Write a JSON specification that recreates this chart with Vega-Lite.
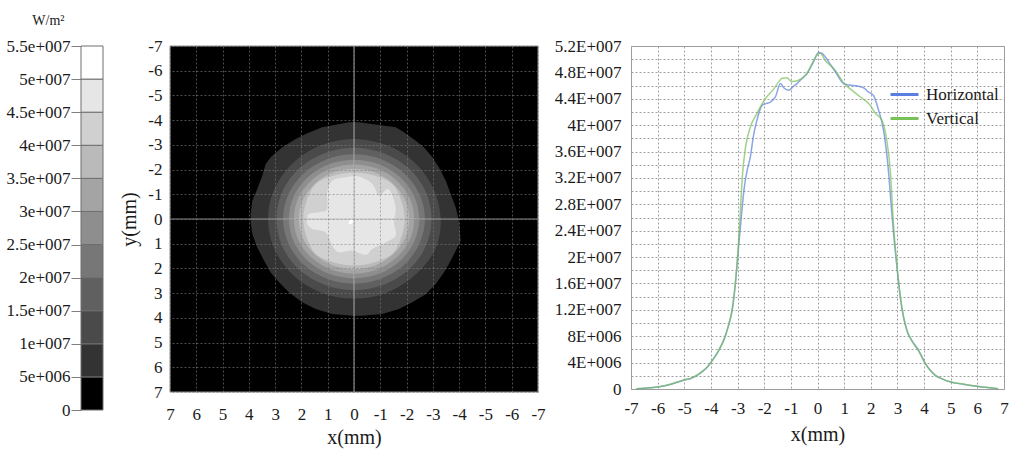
{
  "$schema": "https://vega.github.io/schema/vega-lite/v6.json",
  "padding": {"left": 6, "top": 13, "right": 5, "bottom": 5},
  "background": "white",
  "bounds": "flush",
  "spacing": 67,
  "config": {
    "font": "Liberation Serif",
    "view": {"stroke": null},
    "axis": {"labelFont": "Liberation Serif", "titleFont": "Liberation Serif", "labelColor": "#1a1a1a", "titleColor": "#1a1a1a", "titleFontWeight": "normal", "labelFontSize": 17, "titleFontSize": 20, "labelFlush": false, "labelOverlap": false, "labelBound": false},
    "legend": {"labelFont": "Liberation Serif"}
  },
  "datasets": {
    "bands": [
      {"lo": 0, "hi": 5e6}, {"lo": 5e6, "hi": 1e7}, {"lo": 1e7, "hi": 1.5e7}, {"lo": 1.5e7, "hi": 2e7},
      {"lo": 2e7, "hi": 2.5e7}, {"lo": 2.5e7, "hi": 3e7}, {"lo": 3e7, "hi": 3.5e7}, {"lo": 3.5e7, "hi": 4e7},
      {"lo": 4e7, "hi": 4.5e7}, {"lo": 4.5e7, "hi": 5e7}, {"lo": 5e7, "hi": 5.5e7}
    ],
    "one": [{}],
    "outer": [
      {"v":5e6,"i":0,"x":0.19,"y":-3.91},{"v":5e6,"i":1,"x":-0.19,"y":-3.91},{"v":5e6,"i":2,"x":-1.59,"y":-3.71},{"v":5e6,"i":3,"x":-1.90,"y":-3.51},
      {"v":5e6,"i":4,"x":-2.35,"y":-3.17},{"v":5e6,"i":5,"x":-2.66,"y":-2.90},{"v":5e6,"i":6,"x":-2.98,"y":-2.50},{"v":5e6,"i":7,"x":-3.23,"y":-2.09},
      {"v":5e6,"i":8,"x":-3.49,"y":-1.55},{"v":5e6,"i":9,"x":-3.68,"y":-1.01},{"v":5e6,"i":10,"x":-3.87,"y":-0.47},{"v":5e6,"i":11,"x":-3.99,"y":0.07},
      {"v":5e6,"i":12,"x":-4.06,"y":0.88},{"v":5e6,"i":13,"x":-3.87,"y":1.28},{"v":5e6,"i":14,"x":-3.61,"y":1.82},{"v":5e6,"i":15,"x":-3.42,"y":2.16},
      {"v":5e6,"i":16,"x":-3.11,"y":2.63},{"v":5e6,"i":17,"x":-2.73,"y":3.04},{"v":5e6,"i":18,"x":-2.22,"y":3.37},{"v":5e6,"i":19,"x":-1.71,"y":3.64},
      {"v":5e6,"i":20,"x":-1.08,"y":3.84},{"v":5e6,"i":21,"x":-0.32,"y":3.91},{"v":5e6,"i":22,"x":0.06,"y":3.91},{"v":5e6,"i":23,"x":0.83,"y":3.84},
      {"v":5e6,"i":24,"x":1.46,"y":3.64},{"v":5e6,"i":25,"x":1.97,"y":3.37},{"v":5e6,"i":26,"x":2.47,"y":2.97},{"v":5e6,"i":27,"x":2.85,"y":2.56},
      {"v":5e6,"i":28,"x":3.17,"y":2.16},{"v":5e6,"i":29,"x":3.42,"y":1.69},{"v":5e6,"i":30,"x":3.68,"y":1.15},{"v":5e6,"i":31,"x":3.87,"y":0.61},
      {"v":5e6,"i":32,"x":3.93,"y":0.13},{"v":5e6,"i":33,"x":3.93,"y":-0.20},{"v":5e6,"i":34,"x":3.87,"y":-0.74},{"v":5e6,"i":35,"x":3.68,"y":-1.21},
      {"v":5e6,"i":36,"x":3.49,"y":-1.75},{"v":5e6,"i":37,"x":3.36,"y":-2.23},{"v":5e6,"i":38,"x":3.17,"y":-2.50},{"v":5e6,"i":39,"x":2.73,"y":-2.90},
      {"v":5e6,"i":40,"x":2.22,"y":-3.24},{"v":5e6,"i":41,"x":1.84,"y":-3.44},{"v":5e6,"i":42,"x":1.21,"y":-3.71}
    ],
    "inner": [
      {"v":1e7,"i":0,"x":0.02,"y":-3.24},{"v":1e7,"i":1,"x":-1.25,"y":-2.98},{"v":1e7,"i":2,"x":-2.31,"y":-2.28},{"v":1e7,"i":3,"x":-3.02,"y":-1.23},
      {"v":1e7,"i":4,"x":-3.30,"y":0.05},{"v":1e7,"i":5,"x":-3.08,"y":1.25},{"v":1e7,"i":6,"x":-2.31,"y":2.28},{"v":1e7,"i":7,"x":-1.25,"y":2.98},
      {"v":1e7,"i":8,"x":0,"y":3.22},{"v":1e7,"i":9,"x":1.25,"y":2.98},{"v":1e7,"i":10,"x":2.31,"y":2.28},{"v":1e7,"i":11,"x":3.02,"y":1.23},
      {"v":1e7,"i":12,"x":3.27,"y":0},{"v":1e7,"i":13,"x":3.02,"y":-1.23},{"v":1e7,"i":14,"x":2.31,"y":-2.28},{"v":1e7,"i":15,"x":1.25,"y":-2.98},

      {"v":1.5e7,"i":0,"x":0,"y":-2.88},{"v":1.5e7,"i":1,"x":-1.13,"y":-2.66},{"v":1.5e7,"i":2,"x":-2.09,"y":-2.04},{"v":1.5e7,"i":3,"x":-2.73,"y":-1.10},
      {"v":1.5e7,"i":4,"x":-2.95,"y":0},{"v":1.5e7,"i":5,"x":-2.73,"y":1.10},{"v":1.5e7,"i":6,"x":-2.09,"y":2.04},{"v":1.5e7,"i":7,"x":-1.13,"y":2.66},
      {"v":1.5e7,"i":8,"x":0,"y":2.88},{"v":1.5e7,"i":9,"x":1.13,"y":2.66},{"v":1.5e7,"i":10,"x":2.09,"y":2.04},{"v":1.5e7,"i":11,"x":2.73,"y":1.10},
      {"v":1.5e7,"i":12,"x":2.95,"y":0},{"v":1.5e7,"i":13,"x":2.73,"y":-1.10},{"v":1.5e7,"i":14,"x":2.09,"y":-2.04},{"v":1.5e7,"i":15,"x":1.13,"y":-2.66},

      {"v":2e7,"i":0,"x":0,"y":-2.62},{"v":2e7,"i":1,"x":-1.03,"y":-2.42},{"v":2e7,"i":2,"x":-1.91,"y":-1.85},{"v":2e7,"i":3,"x":-2.49,"y":-1.00},
      {"v":2e7,"i":4,"x":-2.70,"y":0},{"v":2e7,"i":5,"x":-2.49,"y":1.00},{"v":2e7,"i":6,"x":-1.91,"y":1.85},{"v":2e7,"i":7,"x":-1.03,"y":2.42},
      {"v":2e7,"i":8,"x":0,"y":2.62},{"v":2e7,"i":9,"x":1.03,"y":2.42},{"v":2e7,"i":10,"x":1.91,"y":1.85},{"v":2e7,"i":11,"x":2.49,"y":1.00},
      {"v":2e7,"i":12,"x":2.70,"y":0},{"v":2e7,"i":13,"x":2.49,"y":-1.00},{"v":2e7,"i":14,"x":1.91,"y":-1.85},{"v":2e7,"i":15,"x":1.03,"y":-2.42},

      {"v":2.5e7,"i":0,"x":0,"y":-2.40},{"v":2.5e7,"i":1,"x":-0.95,"y":-2.22},{"v":2.5e7,"i":2,"x":-1.75,"y":-1.70},{"v":2.5e7,"i":3,"x":-2.29,"y":-0.92},
      {"v":2.5e7,"i":4,"x":-2.48,"y":0},{"v":2.5e7,"i":5,"x":-2.29,"y":0.92},{"v":2.5e7,"i":6,"x":-1.75,"y":1.70},{"v":2.5e7,"i":7,"x":-0.95,"y":2.22},
      {"v":2.5e7,"i":8,"x":0,"y":2.40},{"v":2.5e7,"i":9,"x":0.95,"y":2.22},{"v":2.5e7,"i":10,"x":1.75,"y":1.70},{"v":2.5e7,"i":11,"x":2.29,"y":0.92},
      {"v":2.5e7,"i":12,"x":2.48,"y":0},{"v":2.5e7,"i":13,"x":2.29,"y":-0.92},{"v":2.5e7,"i":14,"x":1.75,"y":-1.70},{"v":2.5e7,"i":15,"x":0.95,"y":-2.22},

      {"v":3e7,"i":0,"x":0,"y":-2.21},{"v":3e7,"i":1,"x":-0.88,"y":-2.04},{"v":3e7,"i":2,"x":-1.62,"y":-1.56},{"v":3e7,"i":3,"x":-2.12,"y":-0.85},
      {"v":3e7,"i":4,"x":-2.29,"y":0},{"v":3e7,"i":5,"x":-2.12,"y":0.85},{"v":3e7,"i":6,"x":-1.62,"y":1.56},{"v":3e7,"i":7,"x":-0.88,"y":2.04},
      {"v":3e7,"i":8,"x":0,"y":2.21},{"v":3e7,"i":9,"x":0.88,"y":2.04},{"v":3e7,"i":10,"x":1.62,"y":1.56},{"v":3e7,"i":11,"x":2.12,"y":0.85},
      {"v":3e7,"i":12,"x":2.29,"y":0},{"v":3e7,"i":13,"x":2.12,"y":-0.85},{"v":3e7,"i":14,"x":1.62,"y":-1.56},{"v":3e7,"i":15,"x":0.88,"y":-2.04},

      {"v":3.5e7,"i":0,"x":0,"y":-2.03},{"v":3.5e7,"i":1,"x":-0.80,"y":-1.88},{"v":3.5e7,"i":2,"x":-1.48,"y":-1.44},{"v":3.5e7,"i":3,"x":-1.94,"y":-0.78},
      {"v":3.5e7,"i":4,"x":-2.10,"y":0},{"v":3.5e7,"i":5,"x":-1.94,"y":0.78},{"v":3.5e7,"i":6,"x":-1.48,"y":1.44},{"v":3.5e7,"i":7,"x":-0.80,"y":1.88},
      {"v":3.5e7,"i":8,"x":0,"y":2.03},{"v":3.5e7,"i":9,"x":0.80,"y":1.88},{"v":3.5e7,"i":10,"x":1.48,"y":1.44},{"v":3.5e7,"i":11,"x":1.94,"y":0.78},
      {"v":3.5e7,"i":12,"x":2.10,"y":0},{"v":3.5e7,"i":13,"x":1.94,"y":-0.78},{"v":3.5e7,"i":14,"x":1.48,"y":-1.44},{"v":3.5e7,"i":15,"x":0.80,"y":-1.88},

      {"v":4e7,"i":0,"x":0,"y":-1.88},{"v":4e7,"i":1,"x":-0.76,"y":-1.76},{"v":4e7,"i":2,"x":-1.45,"y":-1.42},{"v":4e7,"i":3,"x":-1.80,"y":-0.74},
      {"v":4e7,"i":4,"x":-1.93,"y":0},{"v":4e7,"i":5,"x":-1.80,"y":0.74},{"v":4e7,"i":6,"x":-1.45,"y":1.42},{"v":4e7,"i":7,"x":-0.76,"y":1.76},
      {"v":4e7,"i":8,"x":0,"y":1.88},{"v":4e7,"i":9,"x":0.76,"y":1.76},{"v":4e7,"i":10,"x":1.45,"y":1.42},{"v":4e7,"i":11,"x":1.80,"y":0.74},
      {"v":4e7,"i":12,"x":1.93,"y":0},{"v":4e7,"i":13,"x":1.80,"y":-0.74},{"v":4e7,"i":14,"x":1.45,"y":-1.42},{"v":4e7,"i":15,"x":0.76,"y":-1.76},

      {"v":4.5e7,"i":0,"x":1.78,"y":0},{"v":4.5e7,"i":1,"x":1.71,"y":-0.2},{"v":4.5e7,"i":2,"x":1.33,"y":-0.27},{"v":4.5e7,"i":3,"x":1.02,"y":-0.40},
      {"v":4.5e7,"i":4,"x":1.02,"y":-1.08},{"v":4.5e7,"i":5,"x":0.83,"y":-1.55},{"v":4.5e7,"i":6,"x":0.32,"y":-1.69},{"v":4.5e7,"i":7,"x":-0.19,"y":-1.72},
      {"v":4.5e7,"i":8,"x":-0.70,"y":-1.42},{"v":4.5e7,"i":9,"x":-0.95,"y":-0.94},{"v":4.5e7,"i":10,"x":-1.27,"y":-1.21},{"v":4.5e7,"i":11,"x":-1.46,"y":-0.94},
      {"v":4.5e7,"i":12,"x":-1.59,"y":-0.40},{"v":4.5e7,"i":13,"x":-1.52,"y":0.13},{"v":4.5e7,"i":14,"x":-1.59,"y":0.67},{"v":4.5e7,"i":15,"x":-1.21,"y":0.94},
      {"v":4.5e7,"i":16,"x":-0.70,"y":1.21},{"v":4.5e7,"i":17,"x":-0.44,"y":1.45},{"v":4.5e7,"i":18,"x":0.06,"y":1.28},{"v":4.5e7,"i":19,"x":0.57,"y":1.35},
      {"v":4.5e7,"i":20,"x":0.83,"y":1.08},{"v":4.5e7,"i":21,"x":1.08,"y":0.54},{"v":4.5e7,"i":22,"x":1.59,"y":0.40},{"v":4.5e7,"i":23,"x":1.78,"y":0.20},

      {"v":5e7,"i":0,"x":0.2,"y":0.1},{"v":5e7,"i":1,"x":0.12,"y":0.02},{"v":5e7,"i":2,"x":0.03,"y":0.08},{"v":5e7,"i":3,"x":0.08,"y":0.18},{"v":5e7,"i":4,"x":0.18,"y":0.2}
    ],
    "profile": [
      {"s":"Horizontal","x":-6.8,"v":0.05e6},{"s":"Horizontal","x":-6.5,"v":0.12e6},{"s":"Horizontal","x":-6.0,"v":0.3e6},{"s":"Horizontal","x":-5.6,"v":0.6e6},
      {"s":"Horizontal","x":-5.2,"v":1.1e6},{"s":"Horizontal","x":-4.95,"v":1.4e6},{"s":"Horizontal","x":-4.75,"v":1.6e6},{"s":"Horizontal","x":-4.55,"v":2.0e6},
      {"s":"Horizontal","x":-4.3,"v":2.7e6},{"s":"Horizontal","x":-4.1,"v":3.5e6},{"s":"Horizontal","x":-3.9,"v":4.6e6},{"s":"Horizontal","x":-3.7,"v":5.9e6},
      {"s":"Horizontal","x":-3.5,"v":7.6e6},{"s":"Horizontal","x":-3.35,"v":9.5e6},{"s":"Horizontal","x":-3.2,"v":12.0e6},{"s":"Horizontal","x":-3.08,"v":16.0e6},
      {"s":"Horizontal","x":-2.96,"v":21.6e6},{"s":"Horizontal","x":-2.85,"v":26.5e6},{"s":"Horizontal","x":-2.75,"v":30.5e6},{"s":"Horizontal","x":-2.62,"v":33.5e6},
      {"s":"Horizontal","x":-2.52,"v":35.2e6},{"s":"Horizontal","x":-2.4,"v":38.5e6},{"s":"Horizontal","x":-2.27,"v":40.8e6},{"s":"Horizontal","x":-2.08,"v":43.0e6},
      {"s":"Horizontal","x":-1.9,"v":43.3e6},{"s":"Horizontal","x":-1.77,"v":43.5e6},{"s":"Horizontal","x":-1.58,"v":44.3e6},{"s":"Horizontal","x":-1.39,"v":46.3e6},
      {"s":"Horizontal","x":-1.25,"v":45.6e6},{"s":"Horizontal","x":-1.08,"v":45.3e6},{"s":"Horizontal","x":-0.9,"v":45.9e6},{"s":"Horizontal","x":-0.77,"v":46.3e6},
      {"s":"Horizontal","x":-0.55,"v":47.2e6},{"s":"Horizontal","x":-0.4,"v":47.8e6},{"s":"Horizontal","x":-0.15,"v":49.6e6},{"s":"Horizontal","x":0.04,"v":51.0e6},
      {"s":"Horizontal","x":0.16,"v":50.9e6},{"s":"Horizontal","x":0.3,"v":50.3e6},{"s":"Horizontal","x":0.42,"v":49.6e6},{"s":"Horizontal","x":0.67,"v":48.1e6},
      {"s":"Horizontal","x":0.98,"v":46.3e6},{"s":"Horizontal","x":1.17,"v":46.1e6},{"s":"Horizontal","x":1.54,"v":45.9e6},{"s":"Horizontal","x":1.75,"v":45.6e6},
      {"s":"Horizontal","x":1.92,"v":45.0e6},{"s":"Horizontal","x":2.10,"v":44.5e6},{"s":"Horizontal","x":2.29,"v":42.3e6},{"s":"Horizontal","x":2.48,"v":39.2e6},
      {"s":"Horizontal","x":2.66,"v":33.2e6},{"s":"Horizontal","x":2.79,"v":26.6e6},{"s":"Horizontal","x":2.88,"v":22.5e6},{"s":"Horizontal","x":2.97,"v":19.0e6},
      {"s":"Horizontal","x":3.06,"v":15.5e6},{"s":"Horizontal","x":3.16,"v":12.5e6},{"s":"Horizontal","x":3.35,"v":8.9e6},{"s":"Horizontal","x":3.55,"v":7.3e6},
      {"s":"Horizontal","x":3.79,"v":5.9e6},{"s":"Horizontal","x":4.04,"v":3.9e6},{"s":"Horizontal","x":4.2,"v":3.0e6},{"s":"Horizontal","x":4.41,"v":2.1e6},
      {"s":"Horizontal","x":4.7,"v":1.5e6},{"s":"Horizontal","x":4.97,"v":1.1e6},{"s":"Horizontal","x":5.4,"v":0.75e6},{"s":"Horizontal","x":5.91,"v":0.45e6},
      {"s":"Horizontal","x":6.3,"v":0.25e6},{"s":"Horizontal","x":6.78,"v":0.02e6},

      {"s":"Vertical","x":-6.8,"v":0.05e6},{"s":"Vertical","x":-6.5,"v":0.1e6},{"s":"Vertical","x":-6.0,"v":0.32e6},{"s":"Vertical","x":-5.6,"v":0.65e6},
      {"s":"Vertical","x":-5.2,"v":1.15e6},{"s":"Vertical","x":-4.95,"v":1.45e6},{"s":"Vertical","x":-4.75,"v":1.65e6},{"s":"Vertical","x":-4.55,"v":2.05e6},
      {"s":"Vertical","x":-4.3,"v":2.75e6},{"s":"Vertical","x":-4.1,"v":3.5e6},{"s":"Vertical","x":-3.9,"v":4.6e6},{"s":"Vertical","x":-3.7,"v":5.9e6},
      {"s":"Vertical","x":-3.5,"v":7.6e6},{"s":"Vertical","x":-3.35,"v":9.5e6},{"s":"Vertical","x":-3.2,"v":12.2e6},{"s":"Vertical","x":-3.08,"v":16.3e6},
      {"s":"Vertical","x":-2.96,"v":22.5e6},{"s":"Vertical","x":-2.88,"v":28.0e6},{"s":"Vertical","x":-2.83,"v":31.7e6},{"s":"Vertical","x":-2.70,"v":36.7e6},
      {"s":"Vertical","x":-2.52,"v":39.7e6},{"s":"Vertical","x":-2.27,"v":41.8e6},{"s":"Vertical","x":-1.96,"v":44.0e6},{"s":"Vertical","x":-1.64,"v":45.5e6},
      {"s":"Vertical","x":-1.45,"v":46.6e6},{"s":"Vertical","x":-1.33,"v":47.1e6},{"s":"Vertical","x":-1.15,"v":47.2e6},{"s":"Vertical","x":-0.96,"v":46.6e6},
      {"s":"Vertical","x":-0.71,"v":46.8e6},{"s":"Vertical","x":-0.4,"v":47.8e6},{"s":"Vertical","x":-0.21,"v":49.3e6},{"s":"Vertical","x":-0.02,"v":50.6e6},
      {"s":"Vertical","x":0.10,"v":50.9e6},{"s":"Vertical","x":0.29,"v":49.8e6},{"s":"Vertical","x":0.67,"v":48.3e6},{"s":"Vertical","x":0.98,"v":46.4e6},
      {"s":"Vertical","x":1.29,"v":45.3e6},{"s":"Vertical","x":1.60,"v":44.3e6},{"s":"Vertical","x":1.98,"v":43.0e6},{"s":"Vertical","x":2.17,"v":41.8e6},
      {"s":"Vertical","x":2.41,"v":40.8e6},{"s":"Vertical","x":2.60,"v":37.7e6},{"s":"Vertical","x":2.73,"v":33.2e6},{"s":"Vertical","x":2.85,"v":25.1e6},
      {"s":"Vertical","x":2.93,"v":21.0e6},{"s":"Vertical","x":3.0,"v":18.0e6},{"s":"Vertical","x":3.08,"v":15.0e6},{"s":"Vertical","x":3.16,"v":12.5e6},
      {"s":"Vertical","x":3.35,"v":9.0e6},{"s":"Vertical","x":3.55,"v":7.2e6},{"s":"Vertical","x":3.79,"v":5.8e6},{"s":"Vertical","x":4.04,"v":3.9e6},
      {"s":"Vertical","x":4.2,"v":3.0e6},{"s":"Vertical","x":4.41,"v":2.1e6},{"s":"Vertical","x":4.7,"v":1.5e6},{"s":"Vertical","x":4.97,"v":1.1e6},
      {"s":"Vertical","x":5.4,"v":0.8e6},{"s":"Vertical","x":5.91,"v":0.45e6},{"s":"Vertical","x":6.3,"v":0.25e6},{"s":"Vertical","x":6.78,"v":0.02e6}
    ]
  },
  "hconcat": [
    {
      "width": 22,
      "height": 364,
      "data": {"name": "bands"},
      "mark": {"type": "rect", "stroke": "#6e6e6e", "strokeWidth": 1},
      "encoding": {
        "y": {
          "field": "lo", "type": "quantitative",
          "scale": {"domain": [0, 5.5e7], "nice": false, "zero": false},
          "axis": {
            "values": [0, 5e6, 1e7, 1.5e7, 2e7, 2.5e7, 3e7, 3.5e7, 4e7, 4.5e7, 5e7, 5.5e7],
            "labelExpr": "datum.value == 0 ? '0' : (datum.value < 1e7 ? format(datum.value / 1e6, '~g') + 'e+006' : format(datum.value / 1e7, '~g') + 'e+007')",
            "grid": false, "domain": false, "ticks": true, "tickSize": 10, "tickColor": "#808080",
            "labelPadding": 1, "labelFontSize": 17, "labelFont": "Liberation Serif", "labelOverlap": false,
            "title": "W/m²", "titleFont": "Liberation Serif", "titleAngle": 0, "titleX": -17, "titleY": -22, "titleAlign": "right", "titleBaseline": "alphabetic", "titleFontSize": 14
          }
        },
        "y2": {"field": "hi"},
        "color": {
          "field": "lo", "type": "quantitative",
          "scale": {"type": "threshold", "domain": [5e6, 1e7, 1.5e7, 2e7, 2.5e7, 3e7, 3.5e7, 4e7, 4.5e7, 5e7],
                    "range": ["#000000", "#333333", "#4a4a4a", "#606060", "#777777", "#8e8e8e", "#a4a4a4", "#bababa", "#d0d0d0", "#e6e6e6", "#ffffff"]},
          "legend": null
        }
      }
    },
    {
      "width": 394,
      "height": 346,
      "layer": [
        {
          "data": {"name": "one"},
          "mark": {"type": "rect", "fill": "#000000"},
          "encoding": {
            "x": {
              "datum": 7, "type": "quantitative", "title": "x(mm)",
              "scale": {"domain": [-7, 7], "reverse": true, "range": [0, 368], "nice": false, "zero": false},
              "axis": {"values": [-7, -6, -5, -4, -3, -2, -1, 0, 1, 2, 3, 4, 5, 6, 7], "labelExpr": "datum.value + ''", "labelFont": "Liberation Serif", "labelOverlap": false, "labelFontSize": 17, "grid": true, "gridColor": "#808080", "gridDash": [2, 2], "gridOpacity": 0.6, "ticks": false, "domain": false, "labelPadding": 14, "title": "x(mm)", "titlePadding": 5, "titleX": 184, "zindex": 1}
            },
            "x2": {"datum": -7},
            "y": {
              "datum": -7, "type": "quantitative", "title": "y(mm)",
              "scale": {"domain": [-7, 7], "reverse": true, "nice": false, "zero": false},
              "axis": {"values": [-7, -6, -5, -4, -3, -2, -1, 0, 1, 2, 3, 4, 5, 6, 7], "labelExpr": "datum.value + ''", "labelFont": "Liberation Serif", "labelOverlap": false, "labelFontSize": 17, "grid": true, "gridColor": "#808080", "gridDash": [2, 2], "gridOpacity": 0.6, "ticks": false, "domain": false, "labelPadding": 8, "title": "y(mm)", "titlePadding": 8, "zindex": 1}
            },
            "y2": {"datum": 7}
          }
        },
        {
          "data": {"name": "outer"},
          "mark": {"type": "line", "filled": true, "interpolate": "linear-closed", "strokeWidth": 0},
          "encoding": {
            "x": {"field": "x", "type": "quantitative", "title": "x(mm)",
              "axis": {"values": [-7, -6, -5, -4, -3, -2, -1, 0, 1, 2, 3, 4, 5, 6, 7], "labelExpr": "datum.value + ''", "labelFont": "Liberation Serif", "labelOverlap": false, "labelFontSize": 17, "grid": true, "gridColor": "#808080", "gridDash": [2, 2], "gridOpacity": 0.6, "ticks": false, "domain": false, "labelPadding": 14, "title": "x(mm)", "titlePadding": 5, "titleX": 184, "zindex": 1}},
            "y": {"field": "y", "type": "quantitative", "title": "y(mm)",
              "axis": {"values": [-7, -6, -5, -4, -3, -2, -1, 0, 1, 2, 3, 4, 5, 6, 7], "labelExpr": "datum.value + ''", "labelFont": "Liberation Serif", "labelOverlap": false, "labelFontSize": 17, "grid": true, "gridColor": "#808080", "gridDash": [2, 2], "gridOpacity": 0.6, "ticks": false, "domain": false, "labelPadding": 8, "title": "y(mm)", "titlePadding": 8, "zindex": 1}},
            "order": {"field": "i", "type": "quantitative"},
            "color": {
              "field": "v", "type": "quantitative",
              "scale": {"type": "threshold", "domain": [5e6, 1e7, 1.5e7, 2e7, 2.5e7, 3e7, 3.5e7, 4e7, 4.5e7, 5e7],
                        "range": ["#000000", "#333333", "#4a4a4a", "#606060", "#777777", "#8e8e8e", "#a4a4a4", "#bababa", "#d0d0d0", "#e6e6e6", "#ffffff"]},
              "legend": null
            }
          }
        },
        {
          "data": {"name": "inner"},
          "mark": {"type": "line", "filled": true, "interpolate": "cardinal-closed", "strokeWidth": 0},
          "encoding": {
            "x": {"field": "x", "type": "quantitative", "title": "x(mm)",
              "axis": {"values": [-7, -6, -5, -4, -3, -2, -1, 0, 1, 2, 3, 4, 5, 6, 7], "labelExpr": "datum.value + ''", "labelFont": "Liberation Serif", "labelOverlap": false, "labelFontSize": 17, "grid": true, "gridColor": "#808080", "gridDash": [2, 2], "gridOpacity": 0.6, "ticks": false, "domain": false, "labelPadding": 14, "title": "x(mm)", "titlePadding": 5, "titleX": 184, "zindex": 1}},
            "y": {"field": "y", "type": "quantitative", "title": "y(mm)",
              "axis": {"values": [-7, -6, -5, -4, -3, -2, -1, 0, 1, 2, 3, 4, 5, 6, 7], "labelExpr": "datum.value + ''", "labelFont": "Liberation Serif", "labelOverlap": false, "labelFontSize": 17, "grid": true, "gridColor": "#808080", "gridDash": [2, 2], "gridOpacity": 0.6, "ticks": false, "domain": false, "labelPadding": 8, "title": "y(mm)", "titlePadding": 8, "zindex": 1}},
            "order": {"field": "i", "type": "quantitative"},
            "color": {
              "field": "v", "type": "quantitative",
              "scale": {"type": "threshold", "domain": [5e6, 1e7, 1.5e7, 2e7, 2.5e7, 3e7, 3.5e7, 4e7, 4.5e7, 5e7],
                        "range": ["#000000", "#333333", "#4a4a4a", "#606060", "#777777", "#8e8e8e", "#a4a4a4", "#bababa", "#d0d0d0", "#e6e6e6", "#ffffff"]},
              "legend": null
            }
          }
        },
        {
          "data": {"name": "one"},
          "mark": {"type": "rule", "color": "#b4b4b4", "strokeWidth": 1.2, "opacity": 0.75},
          "encoding": {
            "x": {"datum": 0, "type": "quantitative", "title": "x(mm)",
              "axis": {"values": [-7, -6, -5, -4, -3, -2, -1, 0, 1, 2, 3, 4, 5, 6, 7], "labelExpr": "datum.value + ''", "labelFont": "Liberation Serif", "labelOverlap": false, "labelFontSize": 17, "grid": true, "gridColor": "#808080", "gridDash": [2, 2], "gridOpacity": 0.6, "ticks": false, "domain": false, "labelPadding": 14, "title": "x(mm)", "titlePadding": 5, "titleX": 184, "zindex": 1}}
          }
        },
        {
          "data": {"name": "one"},
          "mark": {"type": "rule", "color": "#b4b4b4", "strokeWidth": 1.2, "opacity": 0.75},
          "encoding": {
            "y": {"datum": 0, "type": "quantitative", "title": "y(mm)",
              "axis": {"values": [-7, -6, -5, -4, -3, -2, -1, 0, 1, 2, 3, 4, 5, 6, 7], "labelExpr": "datum.value + ''", "labelFont": "Liberation Serif", "labelOverlap": false, "labelFontSize": 17, "grid": true, "gridColor": "#808080", "gridDash": [2, 2], "gridOpacity": 0.6, "ticks": false, "domain": false, "labelPadding": 8, "title": "y(mm)", "titlePadding": 8, "zindex": 1}},
            "x": {"datum": 7, "type": "quantitative", "title": "x(mm)",
              "axis": {"values": [-7, -6, -5, -4, -3, -2, -1, 0, 1, 2, 3, 4, 5, 6, 7], "labelExpr": "datum.value + ''", "labelFont": "Liberation Serif", "labelOverlap": false, "labelFontSize": 17, "grid": true, "gridColor": "#808080", "gridDash": [2, 2], "gridOpacity": 0.6, "ticks": false, "domain": false, "labelPadding": 14, "title": "x(mm)", "titlePadding": 5, "titleX": 184, "zindex": 1}},
            "x2": {"datum": -7}
          }
        },
        {
          "data": {"name": "one"},
          "mark": {"type": "rect", "fill": null, "stroke": "#8c8c8c", "strokeWidth": 1},
          "encoding": {
            "x": {"datum": 7, "type": "quantitative", "title": "x(mm)",
              "axis": {"values": [-7, -6, -5, -4, -3, -2, -1, 0, 1, 2, 3, 4, 5, 6, 7], "labelExpr": "datum.value + ''", "labelFont": "Liberation Serif", "labelOverlap": false, "labelFontSize": 17, "grid": true, "gridColor": "#808080", "gridDash": [2, 2], "gridOpacity": 0.6, "ticks": false, "domain": false, "labelPadding": 14, "title": "x(mm)", "titlePadding": 5, "titleX": 184, "zindex": 1}},
            "x2": {"datum": -7},
            "y": {"datum": -7, "type": "quantitative", "title": "y(mm)",
              "axis": {"values": [-7, -6, -5, -4, -3, -2, -1, 0, 1, 2, 3, 4, 5, 6, 7], "labelExpr": "datum.value + ''", "labelFont": "Liberation Serif", "labelOverlap": false, "labelFontSize": 17, "grid": true, "gridColor": "#808080", "gridDash": [2, 2], "gridOpacity": 0.6, "ticks": false, "domain": false, "labelPadding": 8, "title": "y(mm)", "titlePadding": 8, "zindex": 1}},
            "y2": {"datum": 7}
          }
        }
      ]
    },
    {
      "width": 373,
      "height": 343,
      "view": {"stroke": "#9a9a9a"},
      "data": {"name": "profile"},
      "mark": {"type": "line", "strokeWidth": 1.5, "opacity": 0.7, "interpolate": "monotone"},
      "encoding": {
        "x": {
          "field": "x", "type": "quantitative",
          "scale": {"domain": [-7, 7], "nice": false, "zero": false},
          "axis": {
            "values": [-7, -6, -5, -4, -3, -2, -1, 0, 1, 2, 3, 4, 5, 6, 7],
            "labelExpr": "datum.value + ''", "labelFont": "Liberation Serif", "labelOverlap": false, "labelFontSize": 17,
            "grid": true, "gridColor": "#a0a0a0", "gridDash": [2, 2],
            "ticks": false, "domain": false, "labelPadding": 11, "title": "x(mm)", "titlePadding": 8
          }
        },
        "y": {
          "field": "v", "type": "quantitative",
          "scale": {"domain": [0, 5.2e7], "nice": false, "zero": false},
          "axis": {
            "values": [0, 2e6, 4e6, 6e6, 8e6, 1e7, 1.2e7, 1.4e7, 1.6e7, 1.8e7, 2e7, 2.2e7, 2.4e7, 2.6e7, 2.8e7, 3e7, 3.2e7, 3.4e7, 3.6e7, 3.8e7, 4e7, 4.2e7, 4.4e7, 4.6e7, 4.8e7, 5e7, 5.2e7],
            "labelExpr": "datum.value == 0 ? '0' : (datum.value % 4000000 != 0 ? '' : (datum.value < 1e7 ? format(datum.value / 1e6, '~g') + 'E+006' : format(datum.value / 1e7, '~g') + 'E+007'))",
            "labelFont": "Liberation Serif", "labelOverlap": false, "labelFontSize": 17,
            "grid": true, "gridColor": "#a0a0a0", "gridDash": [2, 2],
            "ticks": false, "domain": false, "labelPadding": 10, "title": null
          }
        },
        "color": {
          "field": "s", "type": "nominal",
          "scale": {"domain": ["Horizontal", "Vertical"], "range": ["#5a7fe0", "#77c157"]},
          "legend": {
            "orient": "none", "legendX": 258, "legendY": 33, "title": null,
            "symbolType": "stroke", "symbolSize": 784, "symbolStrokeWidth": 3, "symbolOpacity": 1,
            "labelFont": "Liberation Serif", "labelFontSize": 17, "labelColor": "#1a1a1a", "labelOffset": 6, "rowPadding": 0
          }
        }
      }
    }
  ]
}
